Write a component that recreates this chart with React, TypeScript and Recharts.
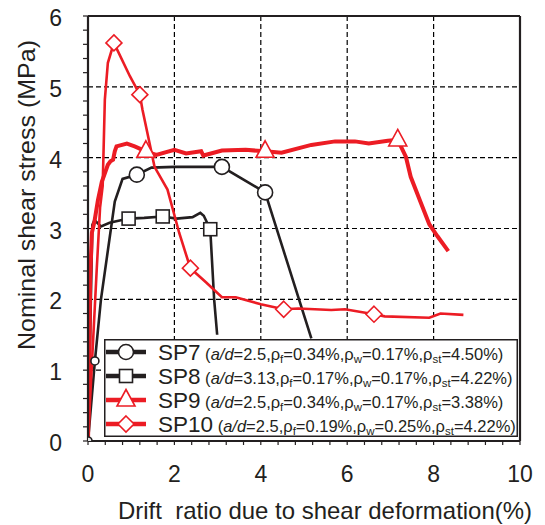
import React from 'react';
import { LineChart, Line, XAxis, YAxis, CartesianGrid, ReferenceLine, Legend } from 'recharts';

// ---------- data (drift ratio %, nominal shear stress MPa) ----------
const sp7X = [0, 0.16, 0.3, 0.62, 0.8, 1.13, 1.47, 2.0, 2.6, 3.1, 4.1, 5.17];
const sp7Y = [0, 1.13, 2.0, 3.38, 3.7, 3.76, 3.86, 3.87, 3.87, 3.87, 3.51, 1.45];
const sp7Markers = [0, 1, 5, 9, 10];

const sp8X = [0, 0.05, 0.1, 0.15, 0.3, 0.5, 0.94, 1.3, 1.73, 2.05, 2.42, 2.6, 2.68, 2.83, 2.92, 2.99];
const sp8Y = [0, 1.5, 3.05, 3.12, 3.03, 3.08, 3.14, 3.15, 3.17, 3.14, 3.16, 3.22, 3.18, 2.99, 2.0, 1.5];
const sp8Markers = [6, 8, 13];

const sp9X = [0, 0.03, 0.05, 0.09, 0.15, 0.23, 0.32, 0.46, 0.52, 0.58, 0.62, 0.66, 0.9, 1.08, 1.34, 1.58, 2.0, 2.27, 2.62, 2.67, 3.1, 3.65, 4.1, 4.48, 5.17, 5.72, 6.18, 6.5, 6.94, 7.17, 7.36, 7.47, 7.7, 7.9, 8.09, 8.34];
const sp9Y = [0, 1.0, 2.3, 2.94, 3.1, 3.4, 3.66, 3.9, 3.95, 3.97, 4.09, 4.16, 4.2, 4.16, 4.09, 4.04, 4.11, 4.06, 4.09, 4.03, 4.1, 4.11, 4.09, 4.07, 4.18, 4.23, 4.23, 4.2, 4.24, 4.25, 4.01, 3.73, 3.37, 3.06, 2.89, 2.68];
const sp9Markers = [14, 22, 29];

const sp10X = [0, 0.1, 0.2, 0.28, 0.34, 0.39, 0.46, 0.6, 0.97, 1.2, 1.26, 1.54, 1.84, 2.11, 2.37, 2.73, 3.1, 3.42, 4.0, 4.53, 4.87, 5.63, 5.95, 6.62, 6.87, 7.9, 8.16, 8.69];
const sp10Y = [0, 1.2, 2.4, 3.3, 3.6, 4.82, 5.34, 5.62, 5.15, 4.89, 4.68, 3.87, 3.55, 2.94, 2.44, 2.24, 2.03, 2.03, 1.93, 1.86, 1.87, 1.85, 1.86, 1.79, 1.76, 1.74, 1.8, 1.78];
const sp10Markers = [7, 9, 14, 19, 23];

const xTicks = [0, 0.4, 0.8, 1.2, 1.6, 2, 2.4, 2.8, 3.2, 3.6, 4, 4.4, 4.8, 5.2, 5.6, 6, 6.4, 6.8, 7.2, 7.6, 8, 8.4, 8.8, 9.2, 9.6, 10];
const yTicks = [0, 0.2, 0.4, 0.6, 0.8, 1, 1.2, 1.4, 1.6, 1.8, 2, 2.2, 2.4, 2.6, 2.8, 3, 3.2, 3.4, 3.6, 3.8, 4, 4.2, 4.4, 4.6, 4.8, 5, 5.2, 5.4, 5.6, 5.8, 6];
const xLabelTicks = [0, 2, 4, 6, 8, 10];
const yLabelTicks = [0, 1, 2, 3, 4, 5, 6];

const legendNames = ['SP7', 'SP8', 'SP9', 'SP10'];
const legendAd = ['2.5', '3.13', '2.5', '2.5'];
const legendRf = ['0.34%', '0.17%', '0.34%', '0.19%'];
const legendRw = ['0.17%', '0.17%', '0.17%', '0.25%'];
const legendRst = ['4.50%', '4.22%', '3.38%', '4.22%'];

const toRows = (xs: number[], ys: number[]) => xs.map((x, i) => ({ x, y: ys[i] }));

const RED = '#ec1c24';
const BLACK = '#231f20';
const FONT = '"Liberation Sans", Arial, sans-serif';

type Shape = 'circle' | 'square' | 'triangle' | 'diamond';

function drawMarker(shape: Shape, cx: number, cy: number, color: string, key: string, small = false, fill = '#fff') {
  const sw = 1.6;
  if (shape === 'circle') {
    return <circle key={key} cx={cx} cy={cy} r={small ? 4 : 7.5} fill={fill} stroke={color} strokeWidth={sw} />;
  }
  if (shape === 'square') {
    const h = 6.5;
    return <rect key={key} x={cx - h} y={cy - h} width={2 * h} height={2 * h} fill={fill} stroke={color} strokeWidth={sw} />;
  }
  if (shape === 'triangle') {
    const w = 9, hTop = 10.5, hBot = 6;
    return <polygon key={key} points={`${cx},${cy - hTop} ${cx + w},${cy + hBot} ${cx - w},${cy + hBot}`} fill={fill} stroke={color} strokeWidth={sw} />;
  }
  const d = 8;
  return <polygon key={key} points={`${cx},${cy - d} ${cx + d},${cy} ${cx},${cy + d} ${cx - d},${cy}`} fill={fill} stroke={color} strokeWidth={sw} />;
}

const makeDot = (shape: Shape, color: string, markers: number[], smallIdx: number[] = [], grayIdx: number[] = []) => (props: any) => {
  const { cx, cy, index } = props;
  const key = `${shape}-${index}`;
  if (!markers.includes(index) || cx == null || cy == null) return <g key={key} />;
  return drawMarker(shape, cx, cy, color, key, smallIdx.includes(index), grayIdx.includes(index) ? '#e4e4e4' : '#fff');
};

const XTick = (props: any) => {
  const { x, y, payload } = props;
  const v = payload.value;
  if (!xLabelTicks.some((t) => Math.abs(t - v) < 1e-6)) return <g />;
  return (
    <text x={x} y={y + 35} textAnchor="middle" fontSize={23} fontFamily={FONT} fill="#231f20">
      {Math.round(v)}
    </text>
  );
};

const YTick = (props: any) => {
  const { x, y, payload } = props;
  const v = payload.value;
  if (!yLabelTicks.some((t) => Math.abs(t - v) < 1e-6)) return <g />;
  return (
    <text x={x} y={y + 10} textAnchor="end" fontSize={23} fontFamily={FONT} fill="#231f20">
      {Math.round(v)}
    </text>
  );
};

const series = [
  { color: BLACK, shape: 'circle' as Shape },
  { color: BLACK, shape: 'square' as Shape },
  { color: RED, shape: 'triangle' as Shape },
  { color: RED, shape: 'diamond' as Shape },
];

const LegendBox = () => {
  const rowY = [21, 45, 69, 93];
  return (
    <svg width={414} height={98} style={{ display: 'block' }}>
      <rect x={0.75} y={0.75} width={412.5} height={96.5} fill="#fff" stroke={BLACK} strokeWidth={1.5} />
      {legendNames.map((name, i) => {
        const cy = rowY[i] - 8;
        const s = series[i];
        return (
          <g key={name}>
            <line x1={2} x2={42} y1={cy} y2={cy} stroke={s.color} strokeWidth={4.5} />
            {drawMarker(s.shape, 22, cy, s.color, `lg-${i}`)}
            <text x={54} y={rowY[i]} fontFamily={FONT} fill="#231f20">
              <tspan fontSize={22.5}>{name}</tspan>
              <tspan fontSize={16.5}>{' ('}</tspan>
              <tspan fontSize={16.5} fontStyle="italic">a/d</tspan>
              <tspan fontSize={16.5}>{`=${legendAd[i]},ρ`}</tspan>
              <tspan fontSize={11.5} dy={3}>f</tspan>
              <tspan fontSize={16.5} dy={-3}>{`=${legendRf[i]},ρ`}</tspan>
              <tspan fontSize={11.5} dy={3}>w</tspan>
              <tspan fontSize={16.5} dy={-3}>{`=${legendRw[i]},ρ`}</tspan>
              <tspan fontSize={11.5} dy={3}>st</tspan>
              <tspan fontSize={16.5} dy={-3}>{`=${legendRst[i]})`}</tspan>
            </text>
          </g>
        );
      })}
    </svg>
  );
};

export default function App() {
  const d7 = toRows(sp7X, sp7Y);
  const d8 = toRows(sp8X, sp8Y);
  const d9 = toRows(sp9X, sp9Y);
  const d10 = toRows(sp10X, sp10Y);
  return (
    <div style={{ margin: '-8px 0 0 -8px', width: 545, height: 525 }}>
      <LineChart width={545} height={525} margin={{ top: 16, right: 25, left: 8, bottom: 0 }}>
        <CartesianGrid
          horizontalValues={[1, 2, 3, 4, 5]}
          verticalValues={[2, 4, 6, 8]}
          stroke="#000"
          strokeWidth={1.2}
          strokeDasharray="5 3"
        />
        <XAxis
          dataKey="x"
          type="number"
          domain={[0, 10]}
          ticks={xTicks}
          interval={0}
          allowDataOverflow
          height={84}
          tickSize={4}
          tickMargin={2}
          tickLine={{ stroke: BLACK, strokeWidth: 1.2 }}
          axisLine={{ stroke: BLACK, strokeWidth: 2.2 }}
          tick={<XTick />}
          label={() => (
            <text x={325} y={519} textAnchor="middle" fontSize={24} fontFamily={FONT} fill="#231f20"
              xmlSpace="preserve" textLength={414} lengthAdjust="spacingAndGlyphs">
              {'Drift  ratio due to shear deformation(%)'}
            </text>
          )}
        />
        <YAxis
          type="number"
          domain={[0, 6]}
          ticks={yTicks}
          interval={0}
          allowDataOverflow
          width={80}
          tickSize={5}
          tickMargin={21}
          tickLine={{ stroke: BLACK, strokeWidth: 1.2 }}
          axisLine={{ stroke: BLACK, strokeWidth: 2.2 }}
          tick={<YTick />}
          label={() => (
            <text x={35} y={195} transform="rotate(-90, 35, 195)" textAnchor="middle" fontSize={24} fontFamily={FONT}
              fill="#231f20" textLength={310} lengthAdjust="spacingAndGlyphs">
              Nominal shear stress (MPa)
            </text>
          )}
        />
        <ReferenceLine y={6} stroke={BLACK} strokeWidth={2.2} />
        <ReferenceLine x={10} stroke={BLACK} strokeWidth={2.2} />
        <Line data={d7} dataKey="y" type="linear" stroke={BLACK} strokeWidth={2.6} isAnimationActive={false} activeDot={false}
          dot={makeDot('circle', BLACK, sp7Markers, [0, 1], [0])} />
        <Line data={d8} dataKey="y" type="linear" stroke={BLACK} strokeWidth={2.6} isAnimationActive={false} activeDot={false}
          dot={makeDot('square', BLACK, sp8Markers)} />
        <Line data={d9} dataKey="y" type="linear" stroke={RED} strokeWidth={4} isAnimationActive={false} activeDot={false}
          dot={makeDot('triangle', RED, sp9Markers)} />
        <Line data={d10} dataKey="y" type="linear" stroke={RED} strokeWidth={2.6} isAnimationActive={false} activeDot={false}
          dot={makeDot('diamond', RED, sp10Markers)} />
        <Legend
          layout="vertical"
          align="center"
          verticalAlign="middle"
          content={() => <LegendBox />}
          wrapperStyle={{ position: 'absolute', left: 104, top: 339, width: 414, height: 98 }}
        />
      </LineChart>
    </div>
  );
}
